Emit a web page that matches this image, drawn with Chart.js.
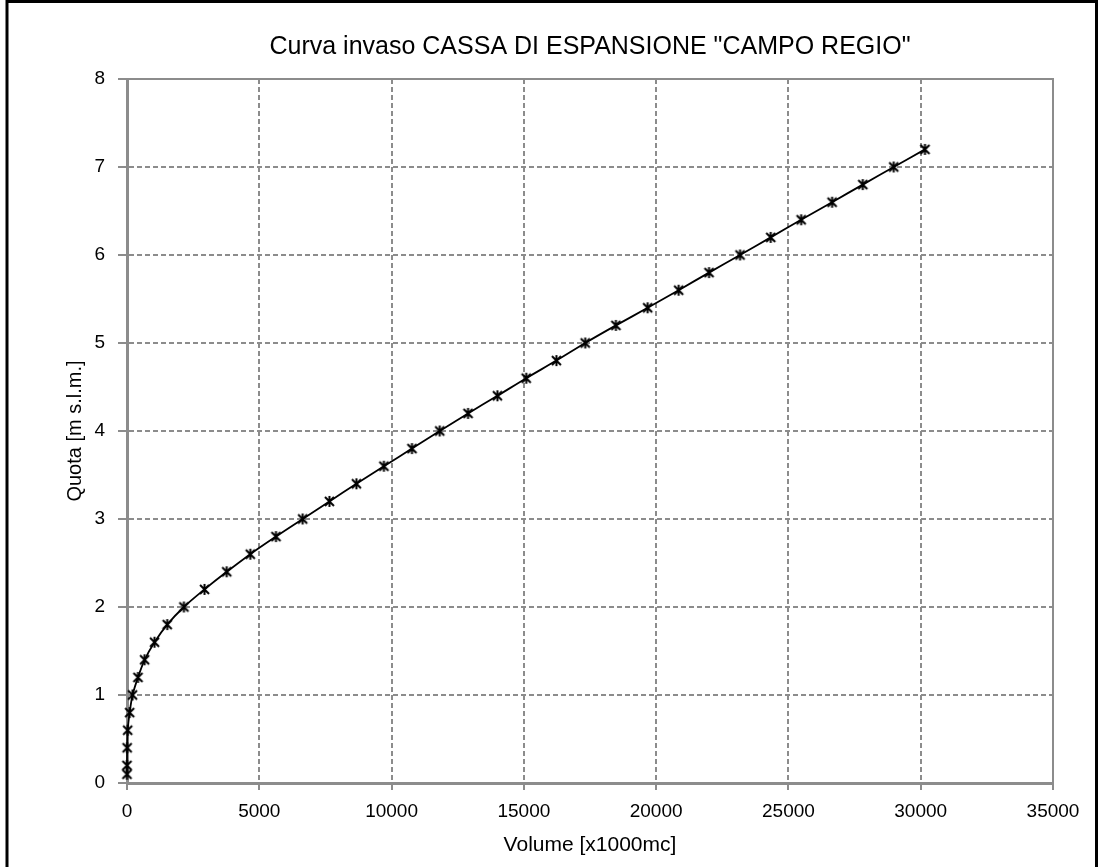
<!DOCTYPE html>
<html>
<head>
<meta charset="utf-8">
<title>Curva invaso</title>
<script src="https://cdn.jsdelivr.net/npm/chart.js@4/dist/chart.umd.min.js"></script>
<style>
  html, body { margin: 0; padding: 0; background: #fff; }
  #wrap { width: 1099px; height: 867px; position: relative; }
</style>
</head>
<body>
<div id="wrap"><canvas id="curva"></canvas></div>
<script>
// volume stored (x1000 mc) against water level (m s.l.m.)
const volume = [0, 0, 5, 25, 100, 210, 415, 665, 1040, 1520, 2150,
  2930, 3770, 4660, 5630, 6640, 7650, 8670, 9710, 10770,
  11820, 12890, 14000, 15090, 16230, 17320, 18480, 19680, 20850,
  22000, 23170, 24330, 25480, 26650, 27810, 28980, 30160];
const quota = [0.1, 0.2, 0.4, 0.6, 0.8, 1.0, 1.2, 1.4, 1.6, 1.8, 2.0,
  2.2, 2.4, 2.6, 2.8, 3.0, 3.2, 3.4, 3.6, 3.8,
  4.0, 4.2, 4.4, 4.6, 4.8, 5.0, 5.2, 5.4, 5.6,
  5.8, 6.0, 6.2, 6.4, 6.6, 6.8, 7.0, 7.2];

const FONT = "'Liberation Sans Narrow', 'Arial Narrow', 'Liberation Sans', Arial, sans-serif";
const GRID = '#8c8c8c';

// asterisk-like marker: X with a vertical stroke
const star = document.createElement('canvas');
star.width = 13; star.height = 13;
(() => {
  const c = star.getContext('2d');
  c.strokeStyle = '#000';
  c.lineWidth = 2;
  c.beginPath();
  c.moveTo(2, 2); c.lineTo(11, 11);
  c.moveTo(11, 2); c.lineTo(2, 11);
  c.moveTo(6.5, 1); c.lineTo(6.5, 12);
  c.stroke();
})();

const points = volume.map((v, i) => ({ x: v, y: quota[i] }));

// white background, outer frame and plot-area border
const frame = {
  id: 'frame',
  beforeDraw(chart) {
    const ctx = chart.ctx;
    ctx.save();
    ctx.fillStyle = '#fff';
    ctx.fillRect(0, 0, chart.width, chart.height);
    ctx.restore();
  },
  beforeDatasetsDraw(chart) {
    const { ctx, chartArea: a } = chart;
    ctx.save();
    ctx.strokeStyle = GRID;
    ctx.lineWidth = 2;
    ctx.strokeRect(a.left, a.top, a.right - a.left, a.bottom - a.top);
    ctx.restore();
  },
  afterDraw(chart) {
    const ctx = chart.ctx;
    ctx.save();
    ctx.strokeStyle = '#000';
    ctx.lineWidth = 3;
    ctx.beginPath();
    ctx.moveTo(7, chart.height + 2);
    ctx.lineTo(7, 1.5);
    ctx.lineTo(chart.width - 2.5, 1.5);
    ctx.lineTo(chart.width - 2.5, chart.height + 2);
    ctx.stroke();
    ctx.restore();
  }
};

new Chart(document.getElementById('curva'), {
  type: 'line',
  data: {
    datasets: [{
      data: points,
      borderColor: '#000',
      borderWidth: 1.8,
      tension: 0.3,
      clip: false,
      pointStyle: star,
      pointRadius: 6,
      pointHoverRadius: 6
    }]
  },
  options: {
    responsive: true,
    maintainAspectRatio: false,
    animation: false,
    layout: { padding: { left: 0, right: 46, top: 0, bottom: 0 } },
    plugins: {
      legend: { display: false },
      tooltip: { enabled: false },
      title: {
        display: true,
        fullSize: false,
        text: 'Curva invaso CASSA DI ESPANSIONE "CAMPO REGIO"',
        color: '#000',
        font: { family: FONT, size: 25, weight: 'normal' },
        padding: { top: 32, bottom: 17 }
      }
    },
    scales: {
      x: {
        type: 'linear',
        min: 0,
        max: 35000,
        afterFit(s) { s.height = 84; },
        ticks: {
          stepSize: 5000,
          color: '#000',
          padding: 10,
          maxRotation: 0,
          font: { family: FONT, size: 19 },
          callback: v => String(v)
        },
        grid: {
          color: GRID,
          lineWidth: 2,
          tickLength: 7,
          tickBorderDash: [],
          tickColor: GRID
        },
        border: { color: GRID, width: 3, dash: [5, 3] },
        title: {
          display: true,
          text: 'Volume [x1000mc]',
          color: '#000',
          font: { family: FONT, size: 21 },
          padding: { top: 0, bottom: 9 }
        }
      },
      y: {
        min: 0,
        max: 8,
        afterFit(s) { s.width = 127; },
        ticks: {
          stepSize: 1,
          color: '#000',
          padding: 13,
          font: { family: FONT, size: 19 }
        },
        grid: {
          color: GRID,
          lineWidth: 2,
          tickLength: 9,
          tickBorderDash: [],
          tickColor: GRID
        },
        border: { color: GRID, width: 3, dash: [5, 3] },
        title: {
          display: true,
          text: 'Quota [m s.l.m.]',
          color: '#000',
          font: { family: FONT, size: 20 },
          padding: { top: 63, bottom: 0 }
        }
      }
    }
  },
  plugins: [frame]
});
</script>
</body>
</html>
